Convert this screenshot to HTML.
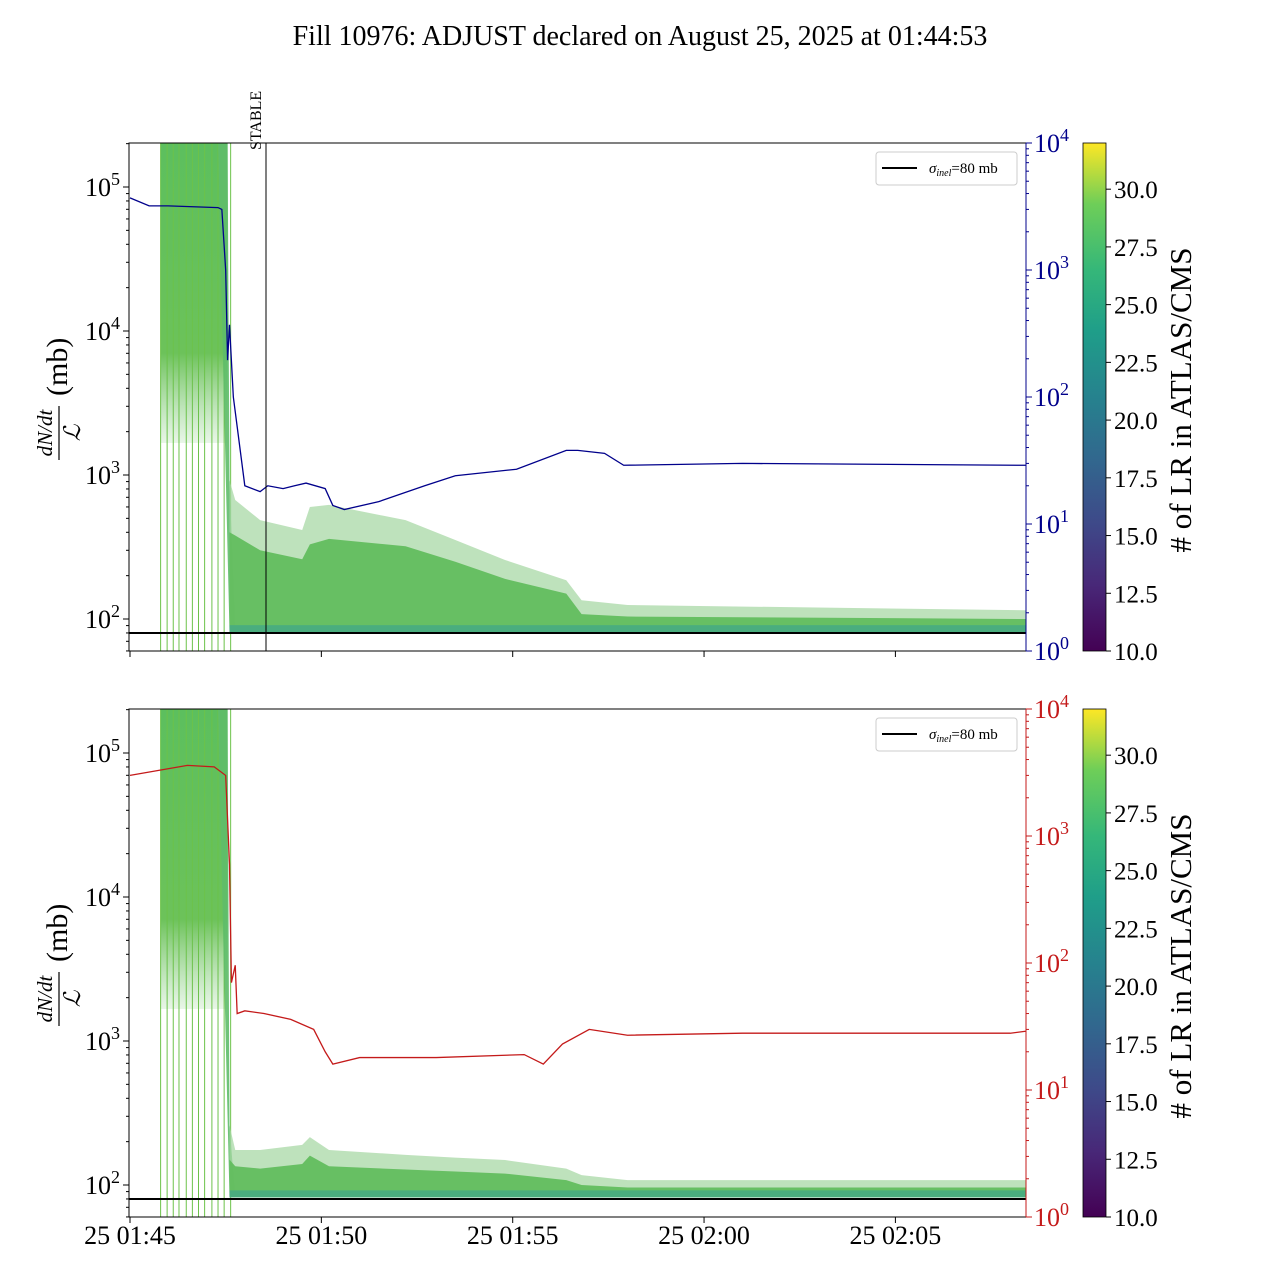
<!DOCTYPE html>
<html><head><meta charset="utf-8"><style>
body{margin:0;background:#fff}
svg{display:block;font-family:"Liberation Serif","DejaVu Serif",serif}
</style></head><body>
<svg id="c" width="1280" height="1280" viewBox="0 0 1280 1280">
<defs>
<linearGradient id="vir" x1="0" y1="1" x2="0" y2="0">
<stop offset="0" stop-color="#440154"/><stop offset="0.13" stop-color="#482878"/><stop offset="0.25" stop-color="#3e4989"/><stop offset="0.38" stop-color="#31688e"/><stop offset="0.5" stop-color="#26828e"/><stop offset="0.63" stop-color="#1f9e89"/><stop offset="0.75" stop-color="#35b779"/><stop offset="0.88" stop-color="#6ece58"/><stop offset="1" stop-color="#fde725"/>
</linearGradient>
<linearGradient id="spk" x1="0" y1="0" x2="0" y2="1">
<stop offset="0" stop-color="#5cbf5e"/><stop offset="0.7" stop-color="#6cc25a"/><stop offset="1" stop-color="#8fd08a" stop-opacity="0.2"/>
</linearGradient>
</defs>
<text x="640" y="45" text-anchor="middle" font-size="28">Fill 10976: ADJUST declared on August 25, 2025 at 01:44:53</text>
</svg>
<script>
// time in minutes after 01:45
const bandT = [2.6, 2.75, 3.4, 4.5, 4.7, 5.2, 7.2, 8.5, 9.8, 11.4, 11.8, 13, 23.4];
const topUpper = [920, 670, 486, 415, 600, 620, 486, 354, 257, 186, 135, 125, 115];
const topCore = [400, 380, 300, 260, 330, 360, 320, 250, 190, 150, 108, 104, 100];
const topLower = [81, 81, 81, 81, 81, 81, 81, 81, 81, 81, 81, 81, 81];
const botUpper = [260, 175, 175, 190, 215, 175, 162, 155, 149, 130, 117, 108, 108];
const botCore = [150, 135, 130, 140, 160, 135, 128, 124, 120, 108, 100, 96, 96];
const botLower = [82, 82, 82, 82, 82, 82, 82, 82, 82, 82, 82, 82, 82];
const blueT = [0, 0.5, 1, 2.3, 2.4, 2.5, 2.55, 2.6, 2.7, 3.0, 3.4, 3.6, 4.0, 4.3, 4.6, 5.1, 5.3, 5.6, 6.5, 7.7, 8.5, 10.1, 11.4, 11.7, 12.4, 12.9, 16, 23.4];
const blueV = [3700, 3200, 3200, 3100, 3000, 1000, 195, 370, 100, 20, 18, 20, 19, 20, 21, 19, 14, 13, 15, 20, 24, 27, 38, 38, 36, 29, 30, 29];
const redT = [0, 1.5, 2.2, 2.5, 2.6, 2.65, 2.75, 2.8, 3.0, 3.5, 4.2, 4.8, 5.1, 5.3, 6, 8, 10.3, 10.8, 11.3, 12, 13, 16, 23, 23.4];
const redV = [3000, 3600, 3500, 3000, 600, 70, 96, 40, 42, 40, 36, 30, 20, 16, 18, 18, 19, 16, 23, 30, 27, 28, 28, 29];
const spikeLines = [0.8, 0.97, 1.13, 1.28, 1.47, 1.63, 1.79, 1.95, 2.14, 2.3, 2.46, 2.63];
const xTickLabels = ["25 01:45", "25 01:50", "25 01:55", "25 02:00", "25 02:05"];
const xTickMin = [0, 5, 10, 15, 20];
const cbTicks = [10, 12.5, 15, 17.5, 20, 22.5, 25, 27.5, 30];

const NS = "http://www.w3.org/2000/svg";
const svg = document.getElementById("c");
function mk(tag, attrs, parent) { const e = document.createElementNS(NS, tag); for (const k in attrs) e.setAttribute(k, attrs[k]); (parent || svg).appendChild(e); return e; }
const X0 = 129, X1 = 1026;
const xs = t => 130 + t * 38.27;

function panel(top, name, rightColor, rightT, rightV, up, core, low, stable) {
  const bot = top + 508;
  const yl = v => (top + 476) - (Math.log10(v) - 2) * 144;
  const yr = v => bot - Math.log10(v) * 127;
  const g = mk("g", {});
  
  
  const cp = mk("clipPath", { id: "clip" + top }, g);
  mk("rect", { x: X0, y: top, width: X1 - X0, height: 508 }, cp);
  const inner = mk("g", { "clip-path": "url(#clip" + top + ")" }, g);
  const sp = mk("rect", { x: xs(0.8), y: top, width: xs(2.55) - xs(0.8), height: 300, fill: "url(#spk)" }, inner);
  
  
  for (const t of spikeLines) {
    const l = mk("line", { x1: xs(t), x2: xs(t), y1: top, y2: bot, stroke: "#6cc24a", "stroke-width": 1 }, inner);
    
    
  }
  mk("polygon", { points: `${xs(2.3)},${top} ${xs(2.55)},${top} ${xs(bandT[0])},${yl(up[0])} ${xs(2.75)},${yl(low[0])} ${xs(2.6)},${yl(low[0])} ${xs(2.45)},${top+250}`, fill: "#5fbd6a", opacity: 0.9 }, inner);
  function band(a, b, fill, op, nm) {
    let pts = bandT.map((t, i) => xs(t) + "," + yl(a[i]));
    pts = pts.concat(bandT.map((t, i) => xs(t) + "," + yl(b[i])).reverse());
    const p = mk("polygon", { points: pts.join(" "), fill: fill, opacity: op }, inner);
    
    
  }
  band(up, low, "#a8d8a6", 0.75, 'lr-band-outer');
  band(core, low, "#62bd5e", 0.95, 'lr-band-core');
  band(low.map(v => v * 1.12), low, "#3fa58a", 0.7, 'lr-band-floor');
  const hl = mk("line", { x1: X0, x2: X1, y1: yl(80), y2: yl(80), stroke: "#000", "stroke-width": 2 }, inner);
  
  
  const pl = mk("polyline", { points: rightT.map((t, i) => xs(t) + "," + yr(rightV[i])).join(" "), fill: "none", stroke: rightColor, "stroke-width": 1.3 }, inner);
  
  
  if (stable) {
    const sl = mk("line", { x1: 266, x2: 266, y1: top, y2: bot, stroke: "#000", "stroke-width": 1 }, g);
    
    
    const st = mk("text", { x: 0, y: 0, "font-size": 16, transform: "translate(261,150) rotate(-90)" }, g);
    st.textContent = "STABLE";
    
    
  }
  mk("rect", { x: X0, y: top, width: X1 - X0, height: 508, fill: "none", stroke: "#000", "stroke-width": 1 }, g);
  for (let d = 1; d <= 5; d++) for (let m = 1; m <= 9; m++) {
    const v = m * Math.pow(10, d); const y = yl(v);
    if (y < top || y > bot) continue;
    mk("line", { x1: X0, x2: X0 - (m === 1 ? 6 : 3), y1: y, y2: y, stroke: "#000" }, g);
    if (m === 1 && d >= 2) {
      const tx = mk("text", { x: 120, y: y + 9, "text-anchor": "end", "font-size": 26 }, g);
      tx.innerHTML = "10<tspan dy='-11' font-size='18'>" + d + "</tspan>";
      
      
    }
  }
  mk("line", { x1: X1, x2: X1, y1: top, y2: bot, stroke: rightColor }, g);
  for (let d = 0; d <= 4; d++) for (let m = 1; m <= 9; m++) {
    const v = m * Math.pow(10, d); const y = yr(v);
    if (y < top - 0.5 || y > bot + 0.5) continue;
    mk("line", { x1: X1, x2: X1 + (m === 1 ? 6 : 3), y1: y, y2: y, stroke: rightColor }, g);
    if (m === 1) {
      const tx = mk("text", { x: 1034, y: y + 9, "font-size": 26, fill: rightColor }, g);
      tx.innerHTML = "10<tspan dy='-11' font-size='18'>" + d + "</tspan>";
      
      
    }
  }
  xTickMin.forEach((t, i) => {
    mk("line", { x1: xs(t), x2: xs(t), y1: bot, y2: bot + 6, stroke: "#000" }, g);
    if (top > 600) {
      const tx = mk("text", { x: xs(t), y: bot + 27, "text-anchor": "middle", "font-size": 26 }, g);
      tx.textContent = xTickLabels[i];
      
      
    }
  });
  const yg = mk("g", { transform: `translate(62,${top + 245}) rotate(-90)` }, g);
  
  
  const t1 = mk("text", { x: -45, y: -10, "text-anchor": "middle", "font-size": 21, "font-style": "italic" }, yg); t1.textContent = "dN/dt";
  mk("line", { x1: -72, x2: -18, y1: -3, y2: -3, stroke: "#000", "stroke-width": 1.2 }, yg);
  const t2 = mk("text", { x: -45, y: 18, "text-anchor": "middle", "font-size": 23, "font-style": "italic" }, yg); t2.textContent = "ℒ";
  const t3 = mk("text", { x: -8, y: 5, "font-size": 30 }, yg); t3.textContent = "(mb)";
  const lg = mk("g", {}, g);
  
  
  mk("rect", { x: 876, y: top + 9, width: 141, height: 33, rx: 3, fill: "#fff", stroke: "#ccc" }, lg);
  mk("line", { x1: 882, x2: 917, y1: top + 25, y2: top + 25, stroke: "#000", "stroke-width": 2 }, lg);
  const lt = mk("text", { x: 929, y: top + 30, "font-size": 15 }, lg);
  lt.innerHTML = "<tspan font-style='italic'>σ</tspan><tspan font-style='italic' font-size='10' dy='3'>inel</tspan><tspan dy='-3'>=80 mb</tspan>";
  const cb = mk("g", {}, g);
  
  
  mk("rect", { x: 1083, y: top, width: 23, height: 508, fill: "url(#vir)", stroke: "#000", "stroke-width": 0.8 }, cb);
  const cy = v => bot - (v - 10) / 22 * 508;
  cbTicks.forEach(v => {
    mk("line", { x1: 1106, x2: 1111, y1: cy(v), y2: cy(v), stroke: "#000" }, cb);
    const tx = mk("text", { x: 1114, y: cy(v) + 9, "font-size": 25 }, cb);
    tx.textContent = v.toFixed(1);
    
    
  });
  const ct = mk("text", { x: 0, y: 0, "font-size": 31, "text-anchor": "middle", transform: `translate(1191,${top + 257}) rotate(-90)` }, cb);
  ct.textContent = "# of LR in ATLAS/CMS";
  
  
}
panel(143, "top", "#00008b", blueT, blueV, topUpper, topCore, topLower, true);
panel(709, "bottom", "#c41a1a", redT, redV, botUpper, botCore, botLower, false);
</script>
</body></html>
